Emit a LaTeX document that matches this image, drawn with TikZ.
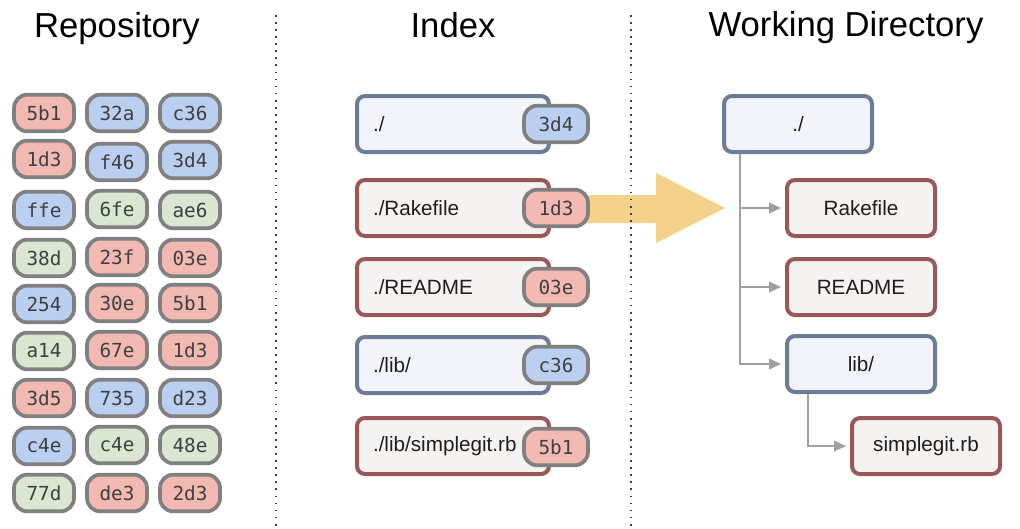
\documentclass[tikz,border=0pt]{standalone}
\usepackage{fontspec}
\setmainfont{Liberation Sans}
\newfontfamily\hashfont{DejaVu Sans Mono}
\usetikzlibrary{arrows.meta}
\definecolor{rf}{RGB}{242,184,178}
\definecolor{bf}{RGB}{186,206,240}
\definecolor{gf}{RGB}{216,230,210}
\definecolor{tagborder}{RGB}{128,128,128}
\definecolor{blueborder}{RGB}{108,124,152}
\definecolor{redborder}{RGB}{152,88,88}
\definecolor{bluebox}{RGB}{242,244,250}
\definecolor{redbox}{RGB}{245,242,242}
\definecolor{gold}{RGB}{244,210,140}
\definecolor{treegray}{RGB}{160,160,160}
\definecolor{txt}{RGB}{30,30,30}
\tikzset{
  hash/.style={draw=tagborder, line width=2.8pt, rounded corners=10pt, minimum width=45pt, minimum height=27.5pt, inner sep=0pt, font=\hashfont\fontsize{14.5}{16}\selectfont, text=txt!85},
  itag/.style={hash, minimum width=48pt},
  ibox/.style={line width=3pt, rounded corners=6pt, minimum width=144pt, minimum height=42pt, inner xsep=12pt, inner ysep=0pt, text width=120pt, align=left, font=\fontsize{15.5}{18}\selectfont, text=txt},
  wbox/.style={line width=3pt, rounded corners=6pt, minimum width=111pt, minimum height=42pt, inner sep=0pt, font=\fontsize{15.5}{18}\selectfont, text=txt},
  bluestyle/.style={draw=blueborder, fill=bluebox},
  redstyle/.style={draw=redborder, fill=redbox},
  title/.style={font=\fontsize{26}{30}\selectfont, text=black, anchor=base},
  sep/.style={line width=1.3pt, dash pattern=on 1.3pt off 4pt, draw=black!75},
  tree/.style={draw=treegray, line width=1.5pt, -{Triangle[length=9pt,width=8pt]}, shorten >=3pt}
}
\begin{document}
\begin{tikzpicture}[x=0.75pt,y=-0.75pt]
\useasboundingbox (0,0) rectangle (1020,528);
\fill[white] (0,0) rectangle (1020,528);

% titles
\node[title] (trepo) at (117,38) {Repository};
\node[title] (tindex) at (453,38) {Index};
\node[title] (twork) at (846,37) {Working Directory};

% big yellow arrow
\coordinate (ya0) at (580,209);
\coordinate (yatip) at (725,208);
\fill[gold] (580,195) -- (656,195) -- (656,173) -- (yatip) -- (656,243) -- (656,223) -- (580,223) -- cycle;

% separators
\coordinate (s1a) at (276,15); \coordinate (s1b) at (276,528);
\coordinate (s2a) at (631,15); \coordinate (s2b) at (631,528);
\draw[sep] (s1a) -- (s1b);
\draw[sep] (s2a) -- (s2b);

% repository
\foreach \lab/\col/\cx/\cy [count=\i] in {
  5b1/rf/44/113, 32a/bf/117/113, c36/bf/190/113,
  1d3/rf/44/159, f46/bf/117/162, 3d4/bf/190/160,
  ffe/bf/44/210, 6fe/gf/117/209, ae6/gf/190/210,
  38d/gf/44/258, 23f/rf/117/257, 03e/rf/190/258,
  254/bf/44/304, 30e/rf/117/303, 5b1/rf/190/303,
  a14/gf/44/351, 67e/rf/117/350, 1d3/rf/190/350,
  3d5/rf/44/398, 735/bf/117/398, d23/bf/190/398,
  c4e/bf/44/446, c4e/gf/117/445, 48e/gf/190/445,
  77d/gf/44/493, de3/rf/117/493, 2d3/rf/190/493}
  \node[hash, fill=\col] (h\i) at (\cx,\cy) {\lab};

% index
\node[ibox, bluestyle] (i1) at (453,124) {./};
\node[ibox, redstyle]  (i2) at (453,208) {./Rakefile};
\node[ibox, redstyle]  (i3) at (453,287) {./README};
\node[ibox, bluestyle] (i4) at (453,365) {./lib/};
\node[ibox, redstyle]  (i5) at (453,446) {./lib/simplegit.rb};
\node[itag, fill=bf] (t1) at (556,124) {3d4};
\node[itag, fill=rf] (t2) at (556,208) {1d3};
\node[itag, fill=rf] (t3) at (556,287) {03e};
\node[itag, fill=bf] (t4) at (556,365) {c36};
\node[itag, fill=rf] (t5) at (556,447) {5b1};

% working directory
\node[wbox, bluestyle] (w0) at (798,124) {./};
\node[wbox, redstyle]  (w1) at (861,208) {Rakefile};
\node[wbox, redstyle]  (w2) at (861,287) {README};
\node[wbox, bluestyle] (w3) at (861,364) {lib/};
\node[wbox, redstyle]  (w4) at (926,446) {simplegit.rb};

\draw[tree] (w0.south west) ++(18,0) |- (w1.west);
\draw[tree] (w0.south west) ++(18,0) |- (w2.west);
\draw[tree] (w0.south west) ++(18,0) |- (w3.west);
\draw[tree] (w3.south west) ++(23,0) |- (w4.west);
\end{tikzpicture}
\end{document}
